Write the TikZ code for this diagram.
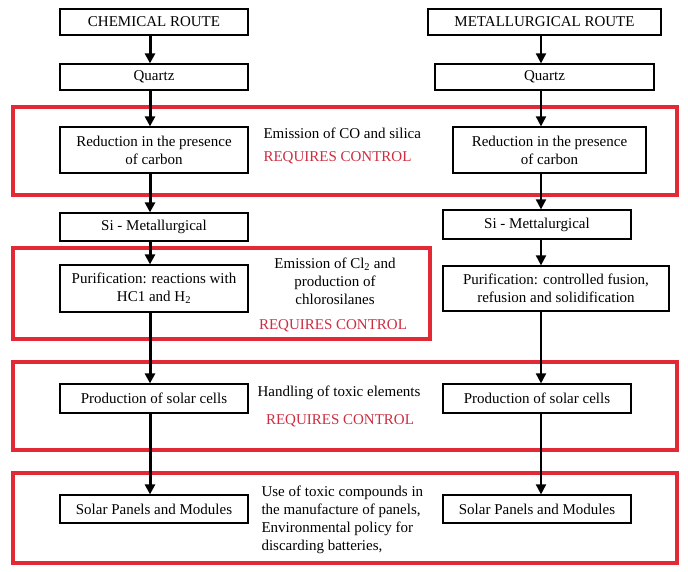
\documentclass[tikz,border=0pt]{standalone}
\usepackage{fontspec}
\setmainfont{Liberation Serif}
\usetikzlibrary{arrows.meta}
\definecolor{framered}{RGB}{226,42,54}
\definecolor{warnred}{RGB}{205,45,65}

\begin{document}
\begin{tikzpicture}[x=1pt,y=-1pt,font=\fontsize{15}{18}\selectfont,
  box/.style={draw, line width=1.2pt, inner sep=0pt, align=center},
  redframe/.style={draw=framered, line width=4pt},
  warn/.style={text=warnred},
  thickflow/.style={line width=3pt, -{Triangle[length=10pt,width=10pt]}},
  thinflow/.style={line width=1.8pt, -{Triangle[length=10pt,width=10pt]}}]
\useasboundingbox (0,0) rectangle (688,571);

\draw [redframe] (13,107) rectangle (677,195);
\draw [redframe] (13,248) rectangle (430,339);
\draw [redframe] (13,362) rectangle (677,450);
\draw [redframe] (13,473) rectangle (677,563);

\coordinate (lx) at (150,0);
\coordinate (rx) at (541,0);

\node [box, minimum width=188pt, minimum height=26pt] (c1) at (154,22) {CHEMICAL ROUTE};
\node [box, minimum width=188pt, minimum height=26pt] (c2) at (154,77) {Quartz};
\node [box, minimum width=188pt, minimum height=46pt] (c3) at (154,150) {Reduction in the presence\\of carbon};
\node [box, minimum width=188pt, minimum height=28pt] (c4) at (154,227) {Si - Metallurgical};
\node [box, minimum width=188pt, minimum height=47pt] (c5) at (154,288.5) {Purification: reactions with\\HC1 and H\textsubscript{2}};
\node [box, minimum width=188pt, minimum height=29pt] (c6) at (154,398.5) {Production of solar cells};
\node [box, minimum width=188pt, minimum height=28pt] (c7) at (154,509) {Solar Panels and Modules};

\node [box, minimum width=233pt, minimum height=26pt] (m1) at (544.5,22) {METALLURGICAL ROUTE};
\node [box, minimum width=219pt, minimum height=26pt] (m2) at (544.5,77) {Quartz};
\node [box, minimum width=193pt, minimum height=46pt] (m3) at (549.5,150) {Reduction in the presence\\of carbon};
\node [box, minimum width=188pt, minimum height=29pt] (m4) at (537,224.5) {Si - Mettalurgical};
\node [box, minimum width=226pt, minimum height=45pt] (m5) at (556,288.5) {Purification: controlled fusion,\\refusion and solidification};
\node [box, minimum width=188pt, minimum height=29pt] (m6) at (537,398.5) {Production of solar cells};
\node [box, minimum width=188pt, minimum height=28pt] (m7) at (537,509) {Solar Panels and Modules};

\node [anchor=west] (e1) at (260,133) {Emission of CO and silica};
\node [anchor=west, warn] (w1) at (260,158) {REQUIRES CONTROL};
\node [align=center] (e2) at (335,281) {Emission of Cl\textsubscript{2} and\\production of\\chlorosilanes};
\node [warn] (w2) at (333,326) {REQUIRES CONTROL};
\node (e3) at (339,393) {Handling of toxic elements};
\node [warn] (w3) at (340,421) {REQUIRES CONTROL};
\node [anchor=west, align=left] (e4) at (258,520) {Use of toxic compounds in\\the manufacture of panels,\\Environmental policy for\\discarding batteries,};

\draw [thickflow] (c1.south -| lx) -- (c2.north -| lx);
\draw [thickflow] (c2.south -| lx) -- (c3.north -| lx);
\draw [thickflow] (c3.south -| lx) -- (c4.north -| lx);
\draw [thickflow] (c4.south -| lx) -- (c5.north -| lx);
\draw [thickflow] (c5.south -| lx) -- (c6.north -| lx);
\draw [thickflow] (c6.south -| lx) -- (c7.north -| lx);

\draw [thinflow] (m1.south -| rx) -- (m2.north -| rx);
\draw [thinflow] (m2.south -| rx) -- (m3.north -| rx);
\draw [thinflow] (m3.south -| rx) -- (m4.north -| rx);
\draw [thinflow] (m4.south -| rx) -- (m5.north -| rx);
\draw [thinflow] (m5.south -| rx) -- (m6.north -| rx);
\draw [thinflow] (m6.south -| rx) -- (m7.north -| rx);
\end{tikzpicture}
\end{document}
